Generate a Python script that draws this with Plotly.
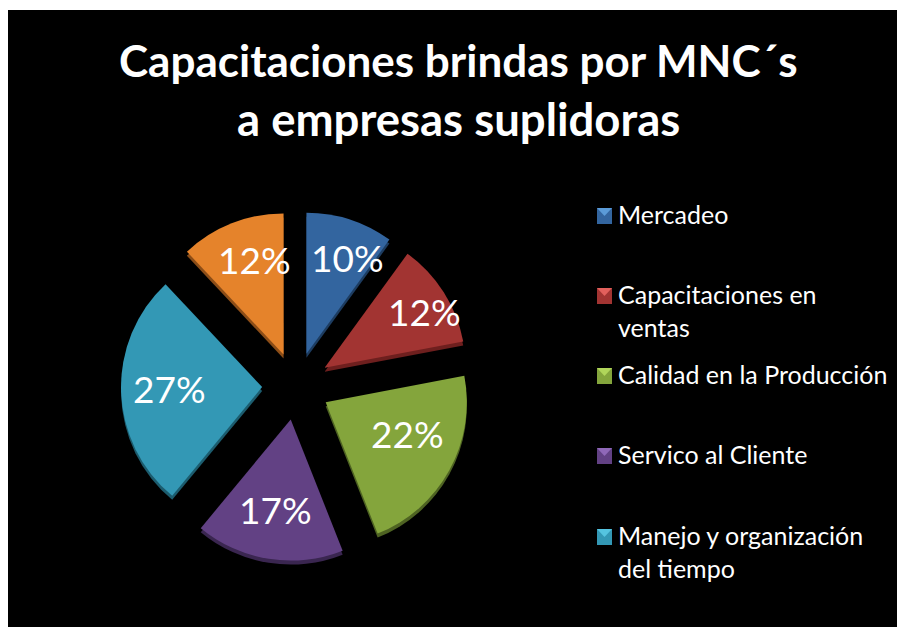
import plotly.graph_objects as go

W, H = 897, 627

categories = ["Mercadeo", "Capacitaciones en<br>ventas", "Calidad en la Producción",
              "Servico al Cliente", "Manejo y organización<br>del tiempo", "Otros"]
values = [10, 12, 22, 17, 27, 12]
colors = ["#33659f", "#a23432", "#84a53c", "#624184", "#3398b5", "#e5832b"]
side_colors = ["#1d3c60", "#6e1f1e", "#4e6322", "#3a2650", "#1c5c6e", "#8c4d17"]
light_colors = ["#5b9bd8", "#e2605c", "#b0d55a", "#8f68b8", "#55c4e0", "#f5a050"]
legend_names = categories[:5]
legend_text_y = [214, 310, 374, 454, 551]
legend_icon_y = [216, 296, 376, 456, 537]
label_x = [347, 424, 407, 275, 169, 255]
label_y = [258, 311, 433, 509, 388, 259]
title_lines = ["Capacitaciones brindas por MNC´s", "a empresas suplidoras"]
title_y = [60, 118]
title_sizes = [44, 45.5]

def px(x):
    return x / W

def py(y):
    return 1 - y / H

def domain(cx, cy, size):
    return dict(x=[px(cx - size / 2), px(cx + size / 2)],
                y=[py(cy + size / 2), py(cy - size / 2)])

PULL = 0.24
SIZE = 350
CX, CY = 296, 386

pie_common = dict(labels=categories, values=values, sort=False, direction="clockwise",
                  rotation=0, pull=PULL, textinfo="none", showlegend=False, hoverinfo="skip")

fig = go.Figure()
fig.add_trace(go.Pie(marker=dict(colors=side_colors, line=dict(width=0)),
                     domain=domain(CX, CY + 4, SIZE), **pie_common))
fig.add_trace(go.Pie(marker=dict(colors=colors, line=dict(width=0)),
                     domain=domain(CX, CY, SIZE), **pie_common))

shapes = [dict(type="rect", xref="paper", yref="paper", x0=px(8), x1=px(897),
               y0=py(627), y1=py(10), fillcolor="black", line=dict(width=0), layer="below")]
annotations = []
for name, c, lc, ty, iy in zip(legend_names, colors, light_colors, legend_text_y, legend_icon_y):
    shapes.append(dict(type="rect", xref="paper", yref="paper", x0=px(597), x1=px(612),
                       y0=py(iy + 8), y1=py(iy - 8), fillcolor=c, line=dict(width=0)))
    shapes.append(dict(type="path", xref="paper", yref="paper",
                       path=f"M {px(597)} {py(iy - 8)} L {px(612)} {py(iy - 8)} L {px(604.5)} {py(iy)} Z",
                       fillcolor=lc, line=dict(width=0)))
    annotations.append(dict(x=px(616), y=py(ty), xref="paper", yref="paper", text=name,
                            showarrow=False, xanchor="left", yanchor="middle", align="left",
                            font=dict(color="white", size=25, family="Lato")))
for v, lx, ly in zip(values, label_x, label_y):
    annotations.append(dict(x=px(lx), y=py(ly), xref="paper", yref="paper", text=f"{v}%",
                            showarrow=False, xanchor="center", yanchor="middle",
                            font=dict(color="white", size=37, family="Lato")))
for line, ly, sz in zip(title_lines, title_y, title_sizes):
    annotations.append(dict(x=px(458), y=py(ly), xref="paper", yref="paper",
                            text=f"<b>{line}</b>",
                            showarrow=False, xanchor="center", yanchor="middle", align="center",
                            font=dict(color="white", size=sz, family="Lato")))

fig.update_layout(width=W, height=H, paper_bgcolor="white", margin=dict(l=0, r=0, t=0, b=0),
                  shapes=shapes, annotations=annotations)
fig.write_html("out.html", config={"displayModeBar": False},
               post_script="document.body.style.margin='0';")
